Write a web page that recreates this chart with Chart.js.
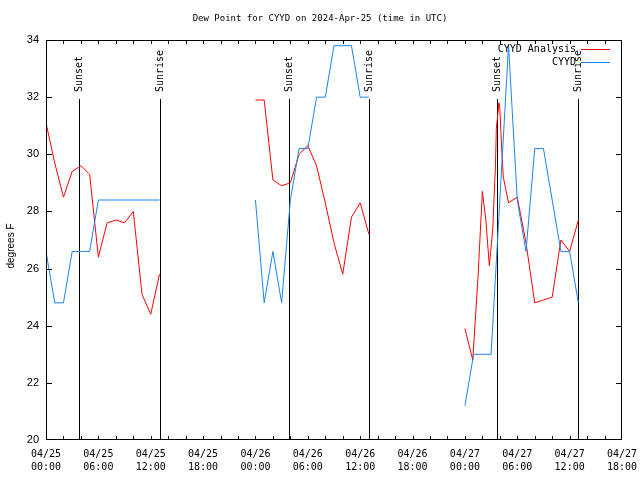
<!DOCTYPE html>
<html lang="en">
<head>
<meta charset="UTF-8">
<title>Dew Point for CYYD</title>
<script src="https://cdn.jsdelivr.net/npm/chart.js"></script>
<style>
  body { margin: 0; background: #fff; }
</style>
</head>
<body>
<canvas id="dewChart" width="640" height="480"></canvas>
<script>
// hours since 04/25 00:00 UTC, a null value breaks the line
const analysisHours = [0, 1, 2, 3, 4, 5, 6, 7, 8, 9, 10, 11, 12, 13, 18,
  24, 25, 26, 27, 28, 29, 30, 31, 32, 33, 34, 35, 36, 37, 42,
  48, 48.9, 49.5, 50, 50.4, 50.8, 51.2, 51.3, 51.5, 51.6, 51.9, 52, 52.2, 52.4, 53, 54, 55, 56, 57, 58, 59, 60, 61];
const analysisDew = [31.1, 29.7, 28.5, 29.4, 29.6, 29.3, 26.4, 27.6, 27.7, 27.6, 28.0, 25.1, 24.4, 25.8, null,
  31.9, 31.9, 29.1, 28.9, 29.0, 30.0, 30.3, 29.6, 28.3, 26.9, 25.8, 27.8, 28.3, 27.2, null,
  23.9, 22.8, 25.7, 28.7, 27.7, 26.1, 27.4, 28.2, 29.6, 30.9, 31.8, 31.6, 30.3, 29.2, 28.3, 28.5, 26.9, 24.8, 24.9, 25.0, 27.0, 26.6, 27.7];

const obsHours = [0, 1, 2, 3, 4, 5, 6, 7, 8, 9, 10, 11, 12, 13, 18,
  24, 25, 26, 27, 28, 29, 30, 31, 32, 33, 34, 35, 36, 37, 42,
  48, 49, 50, 51, 52, 53, 54, 55, 56, 57, 58, 59, 60, 61];
const obsDew = [26.6, 24.8, 24.8, 26.6, 26.6, 26.6, 28.4, 28.4, 28.4, 28.4, 28.4, 28.4, 28.4, 28.4, null,
  28.4, 24.8, 26.6, 24.8, 28.4, 30.2, 30.2, 32.0, 32.0, 33.8, 33.8, 33.8, 32.0, 32.0, null,
  21.2, 23.0, 23.0, 23.0, 28.4, 33.8, 28.4, 26.6, 30.2, 30.2, 28.4, 26.6, 26.6, 24.8];

const sunsetHours = [3.8, 27.8, 51.7];
const sunriseHours = [13.1, 37.0, 61.0];

const tickDays = ['04/25', '04/25', '04/25', '04/25', '04/26', '04/26', '04/26', '04/26', '04/27', '04/27', '04/27', '04/27'];
const tickTimes = ['00:00', '06:00', '12:00', '18:00', '00:00', '06:00', '12:00', '18:00', '00:00', '06:00', '12:00', '18:00'];

const seriesNames = ['CYYD Analysis', 'CYYD'];
const seriesColors = ['#ff0000', '#1a84f0'];

const mono = '"DejaVu Sans Mono", monospace';
const sans = '"Liberation Sans", Arial, sans-serif';

function toPoints(hours, vals) {
  return hours.map((h, i) => ({ x: h, y: vals[i] }));
}

// gnuplot style frame, inward ticks, sun lines, title and legend
const frame = {
  id: 'frame',
  beforeDatasetsDraw(chart) {
    const { ctx, chartArea: a, scales: { x, y } } = chart;
    const top = Math.round(y.getPixelForValue(32)) + 2;
    ctx.save();
    ctx.strokeStyle = '#000';
    ctx.lineWidth = 1;
    ctx.fillStyle = '#000';
    ctx.font = '10px ' + mono;
    ctx.textBaseline = 'middle';
    ctx.textAlign = 'left';
    const mark = (h, label) => {
      const px = Math.round(x.getPixelForValue(h)) + 0.5;
      ctx.beginPath();
      ctx.moveTo(px, top);
      ctx.lineTo(px, a.bottom);
      ctx.stroke();
      ctx.save();
      ctx.translate(px, top - 7);
      ctx.rotate(-Math.PI / 2);
      ctx.fillText(label, 0, 0);
      ctx.restore();
    };
    sunsetHours.forEach(h => mark(h, 'Sunset'));
    sunriseHours.forEach(h => mark(h, 'Sunrise'));
    ctx.restore();
  },
  afterDraw(chart) {
    const { ctx, chartArea: a, scales: { x, y } } = chart;
    ctx.save();
    ctx.strokeStyle = '#000';
    ctx.lineWidth = 1;
    ctx.strokeRect(a.left + 0.5, a.top + 0.5, a.right - a.left - 1, a.bottom - a.top - 1);
    ctx.beginPath();
    for (let h = 2; h < 66; h += 2) {
      const px = Math.round(x.getPixelForValue(h)) + 0.5;
      ctx.moveTo(px, a.bottom);
      ctx.lineTo(px, a.bottom - 4);
      ctx.moveTo(px, a.top);
      ctx.lineTo(px, a.top + 4);
    }
    for (let v = 22; v < 34; v += 2) {
      const py = Math.round(y.getPixelForValue(v)) + 0.5;
      ctx.moveTo(a.left, py);
      ctx.lineTo(a.left + 6, py);
      ctx.moveTo(a.right, py);
      ctx.lineTo(a.right - 6, py);
    }
    ctx.stroke();

    ctx.fillStyle = '#000';
    ctx.font = '9px ' + mono;
    ctx.textAlign = 'center';
    ctx.textBaseline = 'middle';
    ctx.fillText('Dew Point for CYYD on 2024-Apr-25 (time in UTC)', 320, 19);

    ctx.save();
    ctx.font = '10px ' + sans;
    ctx.translate(11, 246);
    ctx.rotate(-Math.PI / 2);
    ctx.fillText('degrees F', 0, 0);
    ctx.restore();

    ctx.font = '10px ' + mono;
    ctx.textAlign = 'right';
    seriesNames.forEach((name, i) => {
      const ly = 49 + i * 13;
      ctx.fillStyle = '#000';
      ctx.fillText(name, 576, ly);
      ctx.strokeStyle = seriesColors[i];
      ctx.beginPath();
      ctx.moveTo(581, ly + 0.5);
      ctx.lineTo(610, ly + 0.5);
      ctx.stroke();
    });
    ctx.restore();
  }
};

new Chart(document.getElementById('dewChart'), {
  type: 'line',
  data: {
    datasets: [
      {
        label: seriesNames[1],
        data: toPoints(obsHours, obsDew),
        borderColor: seriesColors[1],
        borderWidth: 1,
        pointRadius: 0,
        spanGaps: false,
        tension: 0
      },
      {
        label: seriesNames[0],
        data: toPoints(analysisHours, analysisDew),
        borderColor: seriesColors[0],
        borderWidth: 1,
        pointRadius: 0,
        spanGaps: false,
        tension: 0
      }
    ]
  },
  options: {
    responsive: false,
    animation: false,
    devicePixelRatio: 1,
    layout: { padding: { top: 40, right: 18, left: 0, bottom: 0 } },
    plugins: { legend: { display: false }, tooltip: { enabled: false } },
    scales: {
      x: {
        type: 'linear',
        min: 0,
        max: 66,
        grid: { display: false, drawTicks: false },
        border: { display: false },
        afterFit: s => {
          s.height = 40;
          s.paddingLeft = 0;
          s.paddingRight = 0;
        },
        ticks: {
          stepSize: 6,
          autoSkip: false,
          maxRotation: 0,
          padding: 8,
          color: '#000',
          font: { family: mono, size: 10, lineHeight: 1.3 },
          callback: v => {
            const i = Math.round(v / 6);
            return [tickDays[i], tickTimes[i]];
          }
        }
      },
      y: {
        min: 20,
        max: 34,
        grid: { display: false, drawTicks: false },
        border: { display: false },
        afterFit: s => {
          s.width = 46;
          s.paddingTop = 0;
          s.paddingBottom = 0;
        },
        ticks: {
          stepSize: 2,
          padding: 7,
          color: '#000',
          font: { family: sans, size: 11 }
        }
      }
    }
  },
  plugins: [frame]
});
</script>
</body>
</html>
